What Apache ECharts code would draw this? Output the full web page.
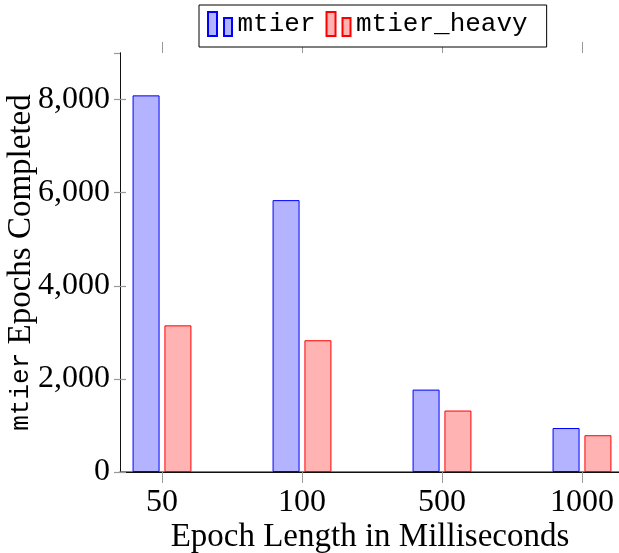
<!DOCTYPE html>
<html>
<head>
<meta charset="utf-8">
<script src="https://cdn.jsdelivr.net/npm/echarts@6/dist/echarts.min.js"></script>
<style>
html,body{margin:0;padding:0;background:#fff;}
#chart{width:619px;height:553px;}
</style>
</head>
<body>
<div id="chart"></div>
<script>
var categories = ['50', '100', '500', '1000'];
var mtier = [8090, 5840, 1770, 945];
var mtierHeavy = [3150, 2830, 1320, 790];
var seriesNames = ['mtier', 'mtier_heavy'];
var yTicks = [0, 2000, 4000, 6000, 8000];

var serif = 'Liberation Serif';
var mono = 'Liberation Mono';
var chart = echarts.init(document.getElementById('chart'), null, {renderer: 'canvas'});
var gridTop = 53, gridH = 419;

chart.setOption({
  animation: false,
  backgroundColor: '#fff',
  legend: {
    data: seriesNames,
    left: 199, top: 5,
    padding: [6, 19, 10, 8],
    itemGap: 10,
    itemWidth: 25, itemHeight: 24,
    icon: 'path://M0,0h9v24h-9z M16,6h8v18h-8z',
    backgroundColor: '#fff',
    borderColor: '#000', borderWidth: 1,
    textStyle: {fontFamily: mono, fontSize: 26, color: '#000'},
    z: 20
  },
  grid: [
    {left: 120, top: gridTop, width: 500, height: gridH, containLabel: false, outerBoundsMode: 'none'},
    {left: 92, top: gridTop, width: 560, height: gridH, containLabel: false, outerBoundsMode: 'none'}
  ],
  xAxis: [
    {
      gridIndex: 0, type: 'value', min: 0, max: 1, position: 'bottom',
      axisLine: {show: true, lineStyle: {color: '#555', width: 1.5}},
      axisTick: {show: false}, axisLabel: {show: false}, splitLine: {show: false},
      name: 'Epoch Length in Milliseconds', nameLocation: 'middle', nameGap: 49,
      nameTextStyle: {fontFamily: serif, fontSize: 33, color: '#000'}
    },
    {
      gridIndex: 0, type: 'value', min: 0, max: 1, position: 'top',
      axisLine: {show: true, lineStyle: {color: '#111', width: 1}},
      axisTick: {show: false}, axisLabel: {show: false}, splitLine: {show: false}
    },
    {
      gridIndex: 1, type: 'category', data: categories, position: 'bottom',
      axisLine: {show: false},
      axisTick: {show: true, alignWithLabel: true, length: 11, lineStyle: {color: '#999', width: 1}},
      axisLabel: {fontFamily: serif, fontSize: 32, color: '#000', margin: 15},
      splitLine: {show: false}
    },
    {
      gridIndex: 1, type: 'category', data: categories, position: 'top',
      axisLine: {show: false},
      axisTick: {show: true, alignWithLabel: true, length: 11, lineStyle: {color: '#999', width: 1}},
      axisLabel: {show: false}, splitLine: {show: false}
    }
  ],
  yAxis: [
    {
      gridIndex: 0, type: 'value', min: 0, max: 9000, interval: 2000, position: 'left',
      axisLine: {show: true, lineStyle: {color: '#111', width: 1}},
      axisTick: {show: true, inside: true, length: 6, lineStyle: {color: '#999', width: 1.2}},
      axisLabel: {
        fontFamily: serif, fontSize: 32, color: '#000', margin: 10, showMaxLabel: false,
        formatter: function (v) { return yTicks.indexOf(v) >= 0 ? echarts.format.addCommas(v) : ''; }
      },
      splitLine: {show: false},
      name: '{tt|mtier} Epochs Completed', nameLocation: 'middle', nameGap: 84,
      nameMoveOverlap: false,
      nameTextStyle: {fontFamily: serif, fontSize: 33, lineHeight: 30, color: '#000',
        rich: {tt: {fontFamily: mono, fontSize: 26, lineHeight: 30, color: '#000'}}}
    },
    {
      gridIndex: 0, type: 'value', min: 0, max: 9000, interval: 2000, position: 'right',
      axisLine: {show: true, lineStyle: {color: '#111', width: 1}},
      axisTick: {show: true, inside: true, length: 6, lineStyle: {color: '#999', width: 1.2}},
      axisLabel: {show: false}, splitLine: {show: false}
    },
    {
      gridIndex: 1, type: 'value', min: 0, max: 9000, show: false
    }
  ],
  series: [
    {
      name: seriesNames[0], type: 'bar', xAxisIndex: 2, yAxisIndex: 2,
      data: mtier, barWidth: 27, barGap: '18%',
      itemStyle: {color: 'rgb(179,179,255)', borderColor: '#0000ff', borderWidth: 1}
    },
    {
      name: seriesNames[1], type: 'bar', xAxisIndex: 2, yAxisIndex: 2,
      data: mtierHeavy, barWidth: 27, barGap: '18%',
      itemStyle: {color: 'rgb(255,179,179)', borderColor: '#ff0000', borderWidth: 1}
    }
  ]
});
</script>
</body>
</html>
